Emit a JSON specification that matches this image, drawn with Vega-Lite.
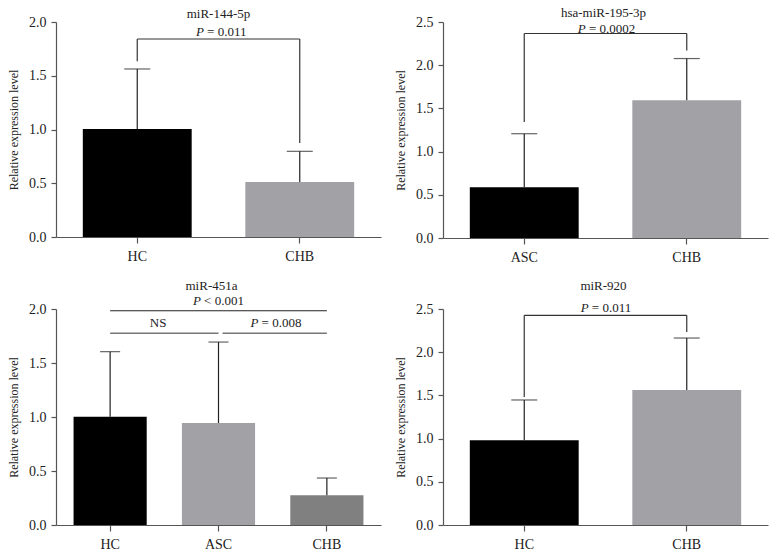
{
  "$schema": "https://vega.github.io/schema/vega-lite/v6.json",
  "padding": {"left": 7, "top": 7, "right": 5, "bottom": 5},
  "spacing": 15,
  "resolve": {"scale": {"color": "independent", "x": "independent", "y": "independent"}},
  "config": {
    "font": "Liberation Serif",
    "view": {"stroke": null},
    "text": {"fontSize": 13, "color": "#222", "baseline": "middle"},
    "axis": {"grid": false, "domainColor": "#555", "tickColor": "#555", "labelColor": "#222", "titleColor": "#222", "domainWidth": 1.2, "tickWidth": 1.2, "labelFont": "Liberation Serif", "titleFont": "Liberation Serif"},
    "axisX": {"title": null, "labelAngle": 0, "labelFontSize": 14, "tickSize": 6, "labelPadding": 6},
    "axisY": {"labelFontSize": 14, "titleFontSize": 12, "titleFontWeight": "normal", "tickSize": 5, "labelPadding": 5, "titlePadding": 8}
  },
  "vconcat": [
    {
      "spacing": 13,
      "resolve": {"scale": {"color": "independent", "x": "independent", "y": "independent"}},
      "hconcat": [
        {
          "width": 325, "height": 215,
          "data": {"values": [
            {"group": "HC", "mean": 1.005, "upper": 1.563},
            {"group": "CHB", "mean": 0.512, "upper": 0.797}
          ]},
          "layer": [
            {"mark": {"type": "bar"},
             "encoding": {
               "x": {"field": "group", "type": "nominal", "scale": {"domain": ["HC", "CHB"], "paddingInner": 0.33, "paddingOuter": 0.165}},
               "y": {"field": "mean", "type": "quantitative", "scale": {"domain": [0, 2], "nice": false}, "axis": {"title": "Relative expression level", "values": [0, 0.5, 1, 1.5, 2], "format": ".1f"}},
               "color": {"field": "group", "type": "nominal", "scale": {"domain": ["HC", "CHB"], "range": ["#000000", "#a2a2a6"]}, "legend": null}
             }},
            {"mark": {"type": "rule", "color": "#222", "strokeWidth": 1.2},
             "encoding": {"x": {"field": "group", "type": "nominal", "bandPosition": 0.5}, "y": {"field": "mean", "type": "quantitative"}, "y2": {"field": "upper"}}},
            {"mark": {"type": "tick", "orient": "horizontal", "color": "#222", "size": 26, "thickness": 1.2},
             "encoding": {"x": {"field": "group", "type": "nominal"}, "y": {"field": "upper", "type": "quantitative"}}},
            {"data": {"values": [{"from": "HC", "to": "CHB", "y": 1.842}]},
             "mark": {"type": "rule", "color": "#333", "strokeWidth": 1.2},
             "encoding": {"x": {"field": "from", "type": "nominal", "bandPosition": 0.5}, "x2": {"field": "to", "bandPosition": 0.5}, "y": {"field": "y", "type": "quantitative"}}},
            {"data": {"values": [{"group": "HC", "top": 1.842, "bottom": 1.634}, {"group": "CHB", "top": 1.842, "bottom": 0.874}]},
             "mark": {"type": "rule", "color": "#333", "strokeWidth": 1.2},
             "encoding": {"x": {"field": "group", "type": "nominal", "bandPosition": 0.5}, "y": {"field": "top", "type": "quantitative"}, "y2": {"field": "bottom"}}},
            {"data": {"values": [{"label": "miR-144-5p", "y": 2.074}]},
             "mark": {"type": "text"},
             "encoding": {"y": {"field": "y", "type": "quantitative"}, "text": {"field": "label"}}},
            {"data": {"values": [{"p": "P", "rest": "= 0.011", "y": 1.907}]},
             "layer": [
               {"mark": {"type": "text", "align": "right", "fontStyle": "italic", "dx": -14.6},
                "encoding": {"y": {"field": "y", "type": "quantitative"}, "text": {"field": "p"}}},
               {"mark": {"type": "text", "align": "left", "dx": -11.4},
                "encoding": {"y": {"field": "y", "type": "quantitative"}, "text": {"field": "rest"}}}
             ]}
          ]
        },
        {
          "width": 325, "height": 216,
          "data": {"values": [
            {"group": "ASC", "mean": 0.588, "upper": 1.207},
            {"group": "CHB", "mean": 1.594, "upper": 2.077}
          ]},
          "layer": [
            {"mark": {"type": "bar"},
             "encoding": {
               "x": {"field": "group", "type": "nominal", "scale": {"domain": ["ASC", "CHB"], "paddingInner": 0.33, "paddingOuter": 0.165}},
               "y": {"field": "mean", "type": "quantitative", "scale": {"domain": [0, 2.5], "nice": false}, "axis": {"title": "Relative expression level", "values": [0, 0.5, 1, 1.5, 2, 2.5], "format": ".1f"}},
               "color": {"field": "group", "type": "nominal", "scale": {"domain": ["ASC", "CHB"], "range": ["#000000", "#a2a2a6"]}, "legend": null}
             }},
            {"mark": {"type": "rule", "color": "#222", "strokeWidth": 1.2},
             "encoding": {"x": {"field": "group", "type": "nominal", "bandPosition": 0.5}, "y": {"field": "mean", "type": "quantitative"}, "y2": {"field": "upper"}}},
            {"mark": {"type": "tick", "orient": "horizontal", "color": "#222", "size": 26, "thickness": 1.2},
             "encoding": {"x": {"field": "group", "type": "nominal"}, "y": {"field": "upper", "type": "quantitative"}}},
            {"data": {"values": [{"from": "ASC", "to": "CHB", "y": 2.367}]},
             "mark": {"type": "rule", "color": "#333", "strokeWidth": 1.2},
             "encoding": {"x": {"field": "from", "type": "nominal", "bandPosition": 0.5}, "x2": {"field": "to", "bandPosition": 0.5}, "y": {"field": "y", "type": "quantitative"}}},
            {"data": {"values": [{"group": "ASC", "top": 2.367, "bottom": 1.343}, {"group": "CHB", "top": 2.367, "bottom": 2.17}]},
             "mark": {"type": "rule", "color": "#333", "strokeWidth": 1.2},
             "encoding": {"x": {"field": "group", "type": "nominal", "bandPosition": 0.5}, "y": {"field": "top", "type": "quantitative"}, "y2": {"field": "bottom"}}},
            {"data": {"values": [{"label": "hsa-miR-195-3p", "y": 2.6}]},
             "mark": {"type": "text", "dx": -2},
             "encoding": {"y": {"field": "y", "type": "quantitative"}, "text": {"field": "label"}}},
            {"data": {"values": [{"p": "P", "rest": "= 0.0002", "y": 2.42}]},
             "layer": [
               {"mark": {"type": "text", "align": "right", "fontStyle": "italic", "dx": -19.85},
                "encoding": {"y": {"field": "y", "type": "quantitative"}, "text": {"field": "p"}}},
               {"mark": {"type": "text", "align": "left", "dx": -16.6},
                "encoding": {"y": {"field": "y", "type": "quantitative"}, "text": {"field": "rest"}}}
             ]}
          ]
        }
      ]
    },
    {
      "spacing": 13,
      "resolve": {"scale": {"color": "independent", "x": "independent", "y": "independent"}},
      "hconcat": [
        {
          "width": 325, "height": 216,
          "data": {"values": [
            {"group": "HC", "mean": 1.003, "upper": 1.605},
            {"group": "ASC", "mean": 0.944, "upper": 1.694},
            {"group": "CHB", "mean": 0.275, "upper": 0.435}
          ]},
          "layer": [
            {"mark": {"type": "bar"},
             "encoding": {
               "x": {"field": "group", "type": "nominal", "scale": {"domain": ["HC", "ASC", "CHB"], "paddingInner": 0.325, "paddingOuter": 0.162}},
               "y": {"field": "mean", "type": "quantitative", "scale": {"domain": [0, 2], "nice": false}, "axis": {"title": "Relative expression level", "values": [0, 0.5, 1, 1.5, 2], "format": ".1f"}},
               "color": {"field": "group", "type": "nominal", "scale": {"domain": ["HC", "ASC", "CHB"], "range": ["#000000", "#a2a2a6", "#808080"]}, "legend": null}
             }},
            {"mark": {"type": "rule", "color": "#222", "strokeWidth": 1.2},
             "encoding": {"x": {"field": "group", "type": "nominal", "bandPosition": 0.5}, "y": {"field": "mean", "type": "quantitative"}, "y2": {"field": "upper"}}},
            {"mark": {"type": "tick", "orient": "horizontal", "color": "#222", "size": 20, "thickness": 1.2},
             "encoding": {"x": {"field": "group", "type": "nominal"}, "y": {"field": "upper", "type": "quantitative"}}},
            {"data": {"values": [{"from": "HC", "to": "CHB", "y": 1.984}]},
             "mark": {"type": "rule", "color": "#222", "strokeWidth": 1.2},
             "encoding": {"x": {"field": "from", "type": "nominal", "bandPosition": 0.5}, "x2": {"field": "to", "bandPosition": 0.5}, "y": {"field": "y", "type": "quantitative"}}},
            {"data": {"values": [{"from": "HC", "to": "ASC", "y": 1.775}]},
             "mark": {"type": "rule", "color": "#777", "strokeWidth": 1.4},
             "encoding": {"x": {"field": "from", "type": "nominal", "bandPosition": 0.5}, "x2": {"field": "to", "bandPosition": 0.5}, "y": {"field": "y", "type": "quantitative"}}},
            {"data": {"values": [{"from": "ASC", "to": "CHB", "y": 1.775}]},
             "mark": {"type": "rule", "color": "#777", "strokeWidth": 1.4},
             "encoding": {"x": {"field": "from", "type": "nominal", "bandPosition": 0.555}, "x2": {"field": "to", "bandPosition": 0.5}, "y": {"field": "y", "type": "quantitative"}}},
            {"data": {"values": [{"label": "miR-451a", "y": 2.213}]},
             "mark": {"type": "text", "dx": -7},
             "encoding": {"y": {"field": "y", "type": "quantitative"}, "text": {"field": "label"}}},
            {"data": {"values": [{"group": "ASC", "p": "P", "rest": "< 0.001", "y": 2.074}]},
             "layer": [
               {"mark": {"type": "text", "align": "right", "fontStyle": "italic", "dx": -17.6},
                "encoding": {"x": {"field": "group", "type": "nominal", "bandPosition": 0.5}, "y": {"field": "y", "type": "quantitative"}, "text": {"field": "p"}}},
               {"mark": {"type": "text", "align": "left", "dx": -14.4},
                "encoding": {"x": {"field": "group", "type": "nominal", "bandPosition": 0.5}, "y": {"field": "y", "type": "quantitative"}, "text": {"field": "rest"}}}
             ]},
            {"data": {"values": [{"group": "HC", "label": "NS", "y": 1.866}]},
             "mark": {"type": "text", "dx": 48},
             "encoding": {"x": {"field": "group", "type": "nominal", "bandPosition": 0.5}, "y": {"field": "y", "type": "quantitative"}, "text": {"field": "label"}}},
            {"data": {"values": [{"group": "ASC", "p": "P", "rest": "= 0.008", "y": 1.866}]},
             "layer": [
               {"mark": {"type": "text", "align": "right", "fontStyle": "italic", "dx": 39.9},
                "encoding": {"x": {"field": "group", "type": "nominal", "bandPosition": 0.5}, "y": {"field": "y", "type": "quantitative"}, "text": {"field": "p"}}},
               {"mark": {"type": "text", "align": "left", "dx": 43.1},
                "encoding": {"x": {"field": "group", "type": "nominal", "bandPosition": 0.5}, "y": {"field": "y", "type": "quantitative"}, "text": {"field": "rest"}}}
             ]}
          ]
        },
        {
          "width": 325, "height": 216,
          "data": {"values": [
            {"group": "HC", "mean": 0.98, "upper": 1.447},
            {"group": "CHB", "mean": 1.5625, "upper": 2.164}
          ]},
          "layer": [
            {"mark": {"type": "bar"},
             "encoding": {
               "x": {"field": "group", "type": "nominal", "scale": {"domain": ["HC", "CHB"], "paddingInner": 0.33, "paddingOuter": 0.165}},
               "y": {"field": "mean", "type": "quantitative", "scale": {"domain": [0, 2.5], "nice": false}, "axis": {"title": "Relative expression level", "values": [0, 0.5, 1, 1.5, 2, 2.5], "format": ".1f"}},
               "color": {"field": "group", "type": "nominal", "scale": {"domain": ["HC", "CHB"], "range": ["#000000", "#a2a2a6"]}, "legend": null}
             }},
            {"mark": {"type": "rule", "color": "#222", "strokeWidth": 1.2},
             "encoding": {"x": {"field": "group", "type": "nominal", "bandPosition": 0.5}, "y": {"field": "mean", "type": "quantitative"}, "y2": {"field": "upper"}}},
            {"mark": {"type": "tick", "orient": "horizontal", "color": "#222", "size": 26, "thickness": 1.2},
             "encoding": {"x": {"field": "group", "type": "nominal"}, "y": {"field": "upper", "type": "quantitative"}}},
            {"data": {"values": [{"from": "HC", "to": "CHB", "y": 2.427}]},
             "mark": {"type": "rule", "color": "#333", "strokeWidth": 1.2},
             "encoding": {"x": {"field": "from", "type": "nominal", "bandPosition": 0.5}, "x2": {"field": "to", "bandPosition": 0.5}, "y": {"field": "y", "type": "quantitative"}}},
            {"data": {"values": [{"group": "HC", "top": 2.427, "bottom": 1.481}, {"group": "CHB", "top": 2.427, "bottom": 2.234}]},
             "mark": {"type": "rule", "color": "#333", "strokeWidth": 1.2},
             "encoding": {"x": {"field": "group", "type": "nominal", "bandPosition": 0.5}, "y": {"field": "top", "type": "quantitative"}, "y2": {"field": "bottom"}}},
            {"data": {"values": [{"label": "miR-920", "y": 2.77}]},
             "mark": {"type": "text", "dx": -2},
             "encoding": {"y": {"field": "y", "type": "quantitative"}, "text": {"field": "label"}}},
            {"data": {"values": [{"p": "P", "rest": "= 0.011", "y": 2.51}]},
             "layer": [
               {"mark": {"type": "text", "align": "right", "fontStyle": "italic", "dx": -16.9},
                "encoding": {"y": {"field": "y", "type": "quantitative"}, "text": {"field": "p"}}},
               {"mark": {"type": "text", "align": "left", "dx": -13.7},
                "encoding": {"y": {"field": "y", "type": "quantitative"}, "text": {"field": "rest"}}}
             ]}
          ]
        }
      ]
    }
  ]
}
